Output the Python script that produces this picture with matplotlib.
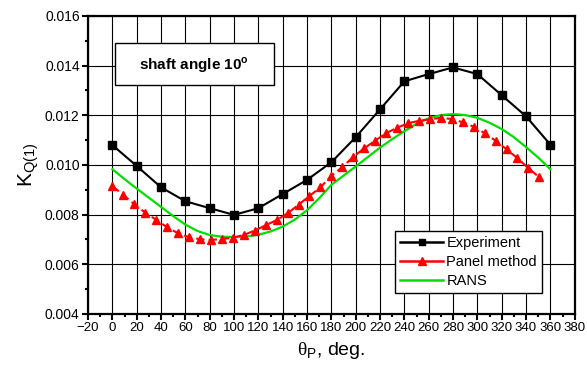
import matplotlib
matplotlib.use('Agg')
import matplotlib.pyplot as plt
from matplotlib.patches import Rectangle
from matplotlib.lines import Line2D

plt.rcParams['font.family'] = ['Liberation Sans', 'DejaVu Sans']
plt.rcParams['mathtext.fontset'] = 'custom'
plt.rcParams['mathtext.rm'] = 'Liberation Serif'

# measured torque coefficient, every 20 deg of blade position
exp_angle = [0, 20, 40, 60, 80, 100, 120, 140, 160, 180,
             200, 220, 240, 260, 280, 300, 320, 340, 360]
exp_kq = [0.0108, 0.00996, 0.0091, 0.00854, 0.00826, 0.00799, 0.00826, 0.00883, 0.0094, 0.01011,
          0.01112, 0.01224, 0.01337, 0.01366, 0.01393, 0.01366, 0.01281, 0.01196, 0.01082]

# panel method, every 9 deg
panel_angle = [0, 9, 18, 27, 36, 45, 54, 63, 72, 81,
               90, 99, 108, 117, 126, 135, 144, 153, 162, 171,
               180, 189, 198, 207, 216, 225, 234, 243, 252, 261,
               270, 279, 288, 297, 306, 315, 324, 333, 342, 351]
panel_kq = [0.00915, 0.00879, 0.00842, 0.00808, 0.00779, 0.00749, 0.00725, 0.00709, 0.00701, 0.00698,
            0.00702, 0.00707, 0.00718, 0.00736, 0.00757, 0.00778, 0.00805, 0.0084, 0.00875, 0.0091,
            0.00956, 0.00991, 0.01033, 0.01067, 0.01098, 0.01128, 0.01150, 0.01168, 0.01178, 0.01184,
            0.01190, 0.01185, 0.01172, 0.01154, 0.01128, 0.01098, 0.01063, 0.01027, 0.00987, 0.0095]

# RANS, every 10 deg
rans_angle = list(range(0, 361, 10))
rans_kq = [0.00983, 0.00943, 0.00905, 0.00868, 0.00831, 0.00794, 0.0076, 0.00734, 0.00718, 0.00711,
           0.00710, 0.00712, 0.00719, 0.00732, 0.00752, 0.0078, 0.00818, 0.00866, 0.0092, 0.00957,
           0.00994, 0.01032, 0.0107, 0.01104, 0.01136, 0.01166, 0.01188, 0.01201, 0.01205, 0.01201,
           0.0119, 0.0117, 0.01145, 0.01112, 0.01072, 0.0103, 0.00983]

x_ticks = list(range(-20, 381, 20))
y_ticks = [0.004, 0.006, 0.008, 0.010, 0.012, 0.014, 0.016]

fig = plt.figure(figsize=(5.87, 3.72), dpi=100)
ax = fig.add_axes([0.150, 0.156, 0.829, 0.801])

ax.plot(exp_angle, exp_kq, color='black', lw=1.5, marker='s', ms=5.5, zorder=5)
ax.plot(panel_angle, panel_kq, color='red', lw=1.5, ls=(0, (4, 2)), marker='^', ms=6, zorder=4)
ax.plot(rans_angle, rans_kq, color='#00e000', lw=1.6, zorder=3)

ax.set_xlim(-20, 380)
ax.set_ylim(0.004, 0.016)
ax.set_xticks(x_ticks)
ax.set_xticks(range(-10, 380, 20), minor=True)
ax.set_yticks(y_ticks)
ax.set_yticks([0.005, 0.007, 0.009, 0.011, 0.013, 0.015], minor=True)
ax.set_yticklabels(['%.3f' % v for v in y_ticks])
ax.grid(True, which='major', color='black', lw=0.8)
ax.tick_params(which='major', direction='out', length=4, width=1.5, labelsize=10, pad=2)
ax.tick_params(axis='x', which='major', labelsize=9.5)
ax.tick_params(which='minor', direction='out', length=2.5, width=1.5)
for s in ax.spines.values():
    s.set_linewidth(1.6)

ax.set_xlabel(r'$\mathrm{\theta}_\mathregular{P}$, deg.', fontsize=14, labelpad=4)
ax.set_ylabel(r'K$_\mathregular{Q(1)}$', fontsize=15, labelpad=3)

# label box for the run condition
ax.add_patch(Rectangle((0.055, 0.768), 0.327, 0.141, transform=ax.transAxes,
                       facecolor='white', edgecolor='black', lw=1.0, zorder=6))
ax.text(0.218, 0.835, r'shaft angle 10$^\mathregular{o}$', transform=ax.transAxes,
        ha='center', va='center', fontsize=11, fontweight='bold', zorder=7)

# legend entries drawn with solid lines
handles = [Line2D([], [], color='black', lw=1.8, marker='s', ms=5),
           Line2D([], [], color='red', lw=1.8, marker='^', ms=5.5),
           Line2D([], [], color='#00e000', lw=1.8)]
labels = ['Experiment', 'Panel method', 'RANS']
leg = ax.legend(handles, labels, loc='lower right', bbox_to_anchor=(0.933, 0.07), fontsize=10.5,
                frameon=True, fancybox=False, framealpha=1, edgecolor='black',
                handlelength=3.0, borderpad=0.35, labelspacing=0.35, handletextpad=0.2,
                borderaxespad=0)
leg.get_frame().set_linewidth(1.0)
leg.set_zorder(8)

fig.savefig('out.png', dpi=100)
